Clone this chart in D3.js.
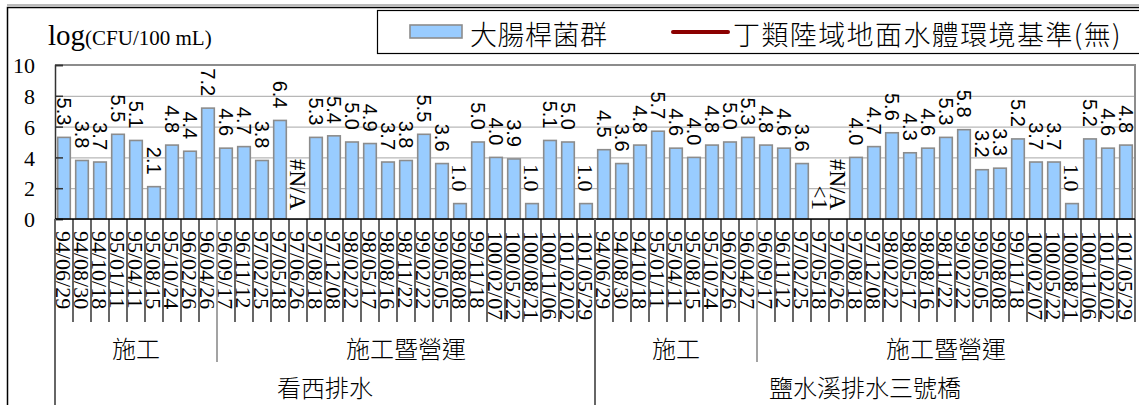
<!DOCTYPE html>
<html><head><meta charset="utf-8">
<script src="https://cdn.jsdelivr.net/npm/d3@7"></script>
<style>
html,body{margin:0;padding:0;background:#fff;}
svg{display:block;}
</style></head>
<body>
<svg id="chart" width="1139" height="405"></svg>
<script>
// ---------------- data ----------------
const sites = ["看西排水", "鹽水溪排水三號橋"];
const phases = ["施工", "施工暨營運"];
const datesKanxi = ["94/06/29","94/08/30","94/10/18","95/01/11","95/04/11","95/08/15","95/10/24","96/02/26","96/04/26",
  "96/09/17","96/11/12","97/02/25","97/05/18","97/06/26","97/08/18","97/12/08","98/02/22","98/05/17","98/08/16","98/11/22",
  "99/02/22","99/05/05","99/08/08","99/11/18","100/02/07","100/05/22","100/08/21","100/11/06","101/02/02","101/05/29"];
const datesYanshui = ["94/06/29","94/08/30","94/10/18","95/01/11","95/04/11","95/08/15","95/10/24","96/02/26","96/04/27",
  "96/09/17","96/11/12","97/02/25","97/05/18","97/06/26","97/08/18","97/12/08","98/02/22","98/05/17","98/08/16","98/11/22",
  "99/02/22","99/05/05","99/08/08","99/11/18","100/02/07","100/05/22","100/08/21","100/11/06","101/02/02","101/05/29"];
const phaseCounts = [9, 21];
const valuesKanxi = [5.3,3.8,3.7,5.5,5.1,2.1,4.8,4.4,7.2,
  4.6,4.7,3.8,6.4,null,5.3,5.4,5.0,4.9,3.7,3.8,5.5,3.6,1.0,5.0,4.0,3.9,1.0,5.1,5.0,1.0];
const valuesYanshui = [4.5,3.6,4.8,5.7,4.6,4.0,4.8,5.0,5.3,
  4.8,4.6,3.6,null,null,4.0,4.7,5.6,4.3,4.6,5.3,5.8,3.2,3.3,5.2,3.7,3.7,1.0,5.2,4.6,4.8];
// text shown where there is no numeric value
const missingKanxi = {13: "#N/A"};
const missingYanshui = {12: "<1", 13: "#N/A"};
const yTicks = [0, 2, 4, 6, 8, 10];
const seriesName = "大腸桿菌群";
const standardName = "丁類陸域地面水體環境基準(無)";
const yTitleMain = "log";
const yTitleUnit = "(CFU/100 mL)";

// ---------------- build rows ----------------
const rows = [];
[[datesKanxi, valuesKanxi, missingKanxi], [datesYanshui, valuesYanshui, missingYanshui]].forEach(([dates, vals, miss], si) => {
  dates.forEach((d, i) => {
    const phase = i < phaseCounts[0] ? 0 : 1;
    rows.push({key: si + "|" + i, date: d, value: vals[i], missing: miss[i] || null, site: si, phase});
  });
});

const svg = d3.select("#chart");
const serif = "'Liberation Serif','Times New Roman',serif";
const sans = "'Liberation Sans',Arial,sans-serif";
const cjk = "'Noto Sans CJK TC','Noto Sans CJK SC',sans-serif";

const plot = {left: 55, right: 1135, top: 65, bottom: 219};
const x = d3.scaleBand().domain(rows.map(r => r.key)).range([plot.left, plot.right]).paddingInner(0.3).paddingOuter(0.15);
const y = d3.scaleLinear().domain([0, 10]).range([plot.bottom, plot.top]);
const step = x.step();
const slotLeft = k => x(k) - step * x.paddingInner() / 2;
// chart outer border
svg.append("rect").attr("x", 7.5).attr("y", 7.5).attr("width", 1200).attr("height", 500)
  .attr("fill", "none").attr("stroke", "#000").attr("stroke-width", 1.5);
svg.append("line").attr("x1", 7).attr("x2", 1139).attr("y1", 5).attr("y2", 5)
  .attr("stroke", "#777").attr("stroke-width", 1);

// gridlines
svg.append("g").attr("transform", `translate(${plot.left},0)`)
  .call(d3.axisLeft(y).tickValues(yTicks).tickSize(-(plot.right - plot.left)).tickFormat(""))
  .call(g => g.select(".domain").remove())
  .call(g => g.selectAll("line").attr("stroke", "#a6a6a6").attr("stroke-width", 1));

// plot border (top & right)
svg.append("path").attr("d", `M${plot.left},${plot.top}H${plot.right}V${plot.bottom}`)
  .attr("fill", "none").attr("stroke", "#8c8c8c").attr("stroke-width", 2);

// bars
svg.append("g").selectAll("rect").data(rows.filter(r => r.value != null)).join("rect")
  .attr("x", r => x(r.key)).attr("width", x.bandwidth())
  .attr("y", r => y(r.value)).attr("height", r => y(0) - y(r.value))
  .attr("fill", "#99ccff").attr("stroke", "#8c8c8c").attr("stroke-width", 1.6);

// y axis
svg.append("g").attr("transform", `translate(${plot.left},0)`)
  .call(d3.axisLeft(y).tickValues(yTicks).tickSize(-8).tickPadding(20).tickFormat(d3.format("d")))
  .call(g => g.select(".domain").attr("stroke", "#333").attr("stroke-width", 1.5))
  .call(g => g.selectAll("line").attr("stroke", "#333").attr("stroke-width", 1.5))
  .call(g => g.selectAll("text").attr("font-family", serif).attr("font-size", 22).attr("fill", "#000").attr("dy", "0.35em"));

// x axis line
svg.append("line").attr("x1", plot.left).attr("x2", plot.right).attr("y1", plot.bottom).attr("y2", plot.bottom)
  .attr("stroke", "#000").attr("stroke-width", 1.5);

// data labels
const lbl = svg.append("g");
rows.forEach(r => {
  const cx = x(r.key) + x.bandwidth() / 2;
  let text, font, size, yEnd;
  if (r.value != null) {
    text = d3.format(".1f")(r.value);
    font = r.value <= 1 ? serif : sans;
    size = r.value <= 1 ? 22 : 20;
    yEnd = y(r.value) - 12;
  } else {
    text = r.missing; font = serif; size = 23; yEnd = y(0) - 9;
  }
  lbl.append("text").attr("transform", `translate(${cx},${yEnd}) rotate(90)`)
    .attr("text-anchor", "end").attr("dy", "0.35em")
    .attr("font-family", font).attr("font-size", size).attr("fill", "#000").text(text);
});

// category axis: leaf tick lines and date labels
const leafBottom = 322, phaseBottom = 362, siteBottom = 420;
const cat = svg.append("g");
rows.forEach((r, i) => {
  const xl = slotLeft(r.key);
  const isSiteStart = i === 0 || rows[i - 1].site !== r.site;
  const isPhaseStart = !isSiteStart && rows[i - 1].phase !== r.phase;
  const yb = isSiteStart ? siteBottom : isPhaseStart ? phaseBottom : leafBottom;
  cat.append("line").attr("x1", xl).attr("x2", xl).attr("y1", plot.bottom).attr("y2", yb)
    .attr("stroke", isSiteStart || isPhaseStart ? "#666" : "#000").attr("stroke-width", isSiteStart ? 2 : 1.2);
  cat.append("text").attr("transform", `translate(${x(r.key) + x.bandwidth() / 2},231) rotate(90)`)
    .attr("dy", "0.35em").attr("font-family", serif).attr("font-size", 22).attr("fill", "#000").text(r.date);
});
// last tick at right edge
cat.append("line").attr("x1", plot.right).attr("x2", plot.right).attr("y1", plot.bottom).attr("y2", leafBottom)
  .attr("stroke", "#000").attr("stroke-width", 1.2);

// phase and site labels
const groupLabel = (items, yBase) => {
  const x0 = slotLeft(items[0].key), x1 = slotLeft(items[items.length - 1].key) + step;
  return {cx: (x0 + x1) / 2, yBase};
};
sites.forEach((s, si) => {
  const siteRows = rows.filter(r => r.site === si);
  phases.forEach((p, pi) => {
    const pr = siteRows.filter(r => r.phase === pi);
    const g = groupLabel(pr, 358);
    svg.append("text").attr("x", g.cx).attr("y", g.yBase).attr("text-anchor", "middle")
      .attr("font-family", cjk).attr("font-weight", 300).attr("font-size", 24).attr("fill", "#000").text(p);
  });
  const g = groupLabel(siteRows, 397);
  svg.append("text").attr("x", g.cx).attr("y", g.yBase).attr("text-anchor", "middle")
    .attr("font-family", cjk).attr("font-weight", 300).attr("font-size", 24).attr("fill", "#000").text(s);
});

// y title
const yt = svg.append("text").attr("x", 48).attr("y", 45).attr("font-family", serif).attr("fill", "#000");
yt.append("tspan").attr("font-size", 29).text(yTitleMain);
yt.append("tspan").attr("font-size", 21).text(yTitleUnit);

// legend
svg.append("rect").attr("x", 377.5).attr("y", 10.5).attr("width", 800).attr("height", 43)
  .attr("fill", "#fff").attr("stroke", "#000").attr("stroke-width", 1.2);
svg.append("rect").attr("x", 410).attr("y", 25).attr("width", 52).attr("height", 13)
  .attr("fill", "#99ccff").attr("stroke", "#8c8c8c").attr("stroke-width", 1.6);
svg.append("text").attr("x", 470).attr("y", 45).attr("font-family", cjk).attr("font-weight", 300)
  .attr("font-size", 27).attr("letter-spacing", 0.5).attr("fill", "#000").text(seriesName);
svg.append("line").attr("x1", 673).attr("x2", 728).attr("y1", 32).attr("y2", 32)
  .attr("stroke", "#8b0000").attr("stroke-width", 4).attr("stroke-linecap", "round");
svg.append("text").attr("x", 733).attr("y", 45).attr("font-family", cjk).attr("font-weight", 300)
  .attr("font-size", 27).attr("letter-spacing", 1.4).attr("fill", "#000").text(standardName);
</script>
</body></html>
